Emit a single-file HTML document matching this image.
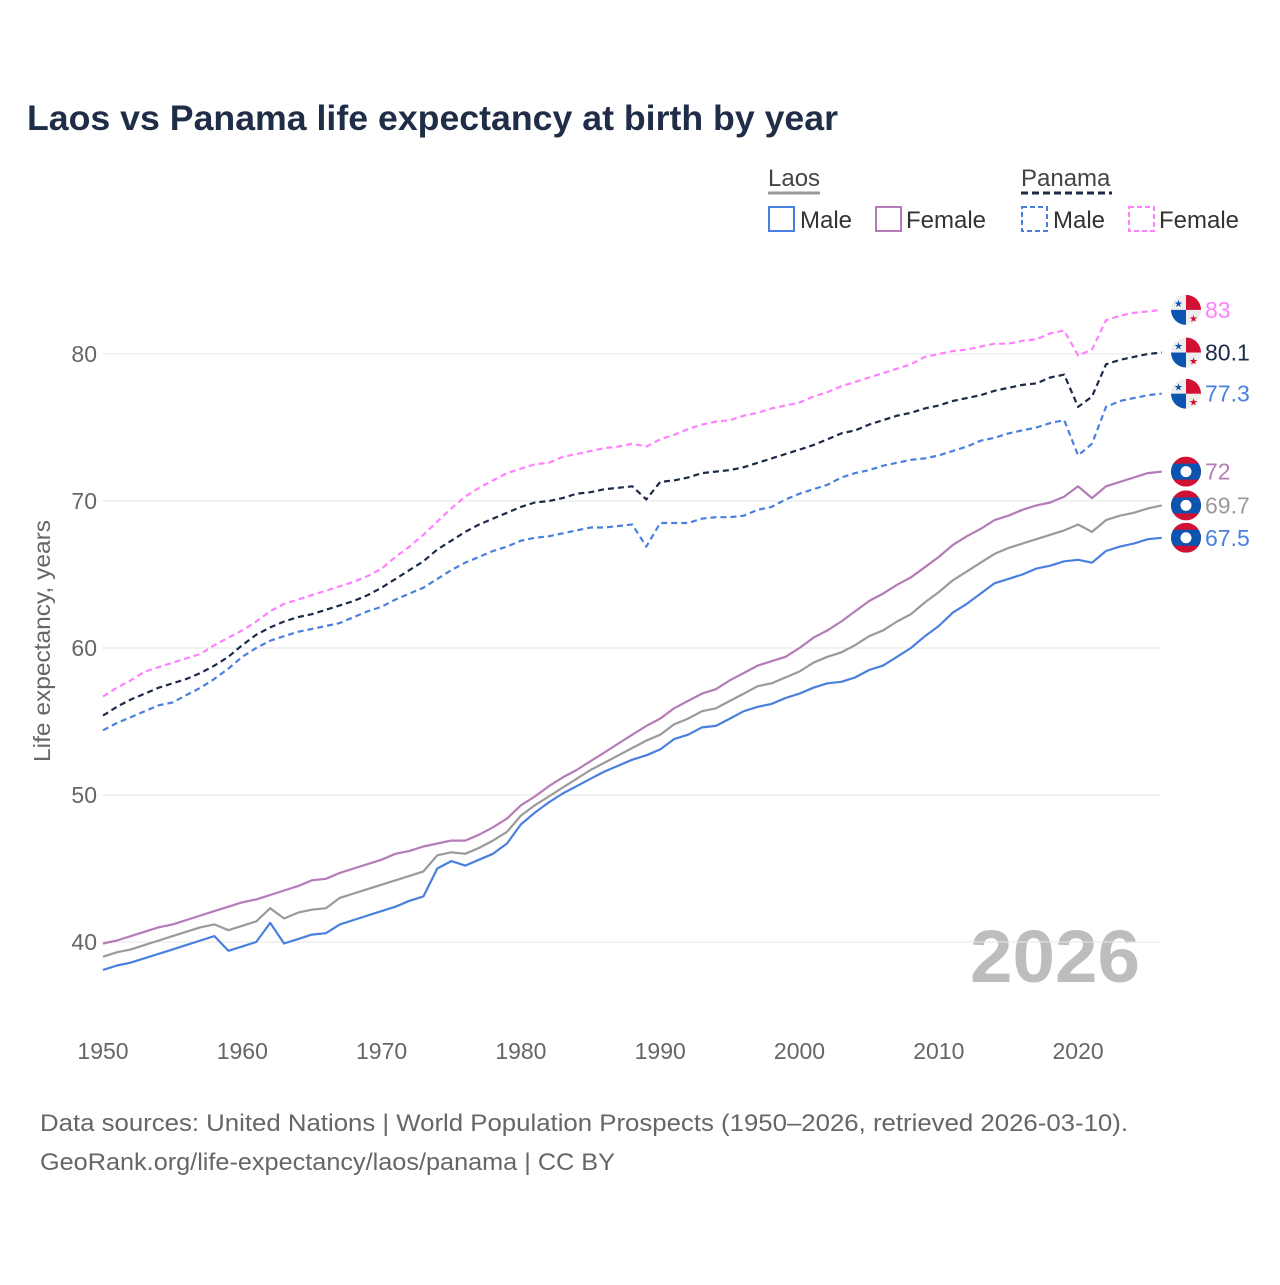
<!DOCTYPE html>
<html><head><meta charset="utf-8"><style>
html,body{margin:0;padding:0;background:#fff;}
body{width:1280px;height:1280px;overflow:hidden;font-family:"Liberation Sans",sans-serif;}
</style></head><body>
<svg id="chart" width="1280" height="1280" viewBox="0 0 1280 1280" xmlns="http://www.w3.org/2000/svg" font-family="Liberation Sans, sans-serif">
<text x="27" y="130" font-size="35" font-weight="bold" fill="#1f2d47" textLength="811" lengthAdjust="spacingAndGlyphs">Laos vs Panama life expectancy at birth by year</text>
<g font-size="24" fill="#333">
  <text x="768" y="186" fill="#444">Laos</text>
  <line x1="768" y1="193" x2="820" y2="193" stroke="#999" stroke-width="3"/>
  <text x="1021" y="186" fill="#444">Panama</text>
  <line x1="1021" y1="193" x2="1112" y2="193" stroke="#1b2a47" stroke-width="3" stroke-dasharray="7,4"/>
  <g><rect x="769" y="207" width="25" height="24" fill="none" stroke="#4a80dd" stroke-width="2"/><text x="800" y="228">Male</text></g>
  <g><rect x="876" y="207" width="25" height="24" fill="none" stroke="#b57bb8" stroke-width="2"/><text x="906" y="228">Female</text></g>
  <g><rect x="1022" y="207" width="25" height="24" fill="none" stroke="#4a80dd" stroke-width="2" stroke-dasharray="5,3"/><text x="1053" y="228">Male</text></g>
  <g><rect x="1129" y="207" width="25" height="24" fill="none" stroke="#ff80ff" stroke-width="2" stroke-dasharray="5,3"/><text x="1159" y="228">Female</text></g>
</g>
<text transform="translate(50,641) rotate(-90)" text-anchor="middle" font-size="23" fill="#666" textLength="242" lengthAdjust="spacingAndGlyphs">Life expectancy, years</text>
<text x="1140" y="982" text-anchor="end" font-size="74" font-weight="bold" fill="#bdbdbd" textLength="170" lengthAdjust="spacingAndGlyphs">2026</text>
<text x="40" y="1131" font-size="24" fill="#666" textLength="1088" lengthAdjust="spacingAndGlyphs">Data sources: United Nations | World Population Prospects (1950–2026, retrieved 2026-03-10).</text>
<text x="40" y="1170" font-size="24" fill="#666" textLength="575" lengthAdjust="spacingAndGlyphs">GeoRank.org/life-expectancy/laos/panama | CC BY</text>
<g id="grid"></g><g id="xticks"></g><g id="series"></g><g id="ends"></g>
</svg>
<script>
const yTicks=[40,50,60,70,80];
const xTicks=[1950,1960,1970,1980,1990,2000,2010,2020];
const startYear=1950;
const laosFemale=[39.9,40.1,40.4,40.7,41.0,41.2,41.5,41.8,42.1,42.4,42.7,42.9,43.2,43.5,43.8,44.2,44.3,44.7,45.0,45.3,45.6,46.0,46.2,46.5,46.7,46.9,46.9,47.3,47.8,48.4,49.3,49.9,50.6,51.2,51.7,52.3,52.9,53.5,54.1,54.7,55.2,55.9,56.4,56.9,57.2,57.8,58.3,58.8,59.1,59.4,60.0,60.7,61.2,61.8,62.5,63.2,63.7,64.3,64.8,65.5,66.2,67.0,67.6,68.1,68.7,69.0,69.4,69.7,69.9,70.3,71.0,70.2,71.0,71.3,71.6,71.9,72.0];
const laosTotal=[39.0,39.3,39.5,39.8,40.1,40.4,40.7,41.0,41.2,40.8,41.1,41.4,42.3,41.6,42.0,42.2,42.3,43.0,43.3,43.6,43.9,44.2,44.5,44.8,45.9,46.1,46.0,46.4,46.9,47.5,48.6,49.3,49.9,50.5,51.1,51.7,52.2,52.7,53.2,53.7,54.1,54.8,55.2,55.7,55.9,56.4,56.9,57.4,57.6,58.0,58.4,59.0,59.4,59.7,60.2,60.8,61.2,61.8,62.3,63.1,63.8,64.6,65.2,65.8,66.4,66.8,67.1,67.4,67.7,68.0,68.4,67.9,68.7,69.0,69.2,69.5,69.7];
const laosMale=[38.1,38.4,38.6,38.9,39.2,39.5,39.8,40.1,40.4,39.4,39.7,40.0,41.3,39.9,40.2,40.5,40.6,41.2,41.5,41.8,42.1,42.4,42.8,43.1,45.0,45.5,45.2,45.6,46.0,46.7,48.0,48.8,49.5,50.1,50.6,51.1,51.6,52.0,52.4,52.7,53.1,53.8,54.1,54.6,54.7,55.2,55.7,56.0,56.2,56.6,56.9,57.3,57.6,57.7,58.0,58.5,58.8,59.4,60.0,60.8,61.5,62.4,63.0,63.7,64.4,64.7,65.0,65.4,65.6,65.9,66.0,65.8,66.6,66.9,67.1,67.4,67.5];
const panamaFemale=[56.7,57.3,57.8,58.4,58.7,59.0,59.3,59.6,60.2,60.7,61.2,61.8,62.5,63.0,63.3,63.6,63.9,64.2,64.5,64.9,65.4,66.2,66.9,67.7,68.6,69.5,70.3,70.9,71.4,71.9,72.2,72.5,72.6,73.0,73.2,73.4,73.6,73.7,73.9,73.7,74.2,74.5,74.9,75.2,75.4,75.5,75.8,76.0,76.3,76.5,76.7,77.1,77.4,77.8,78.1,78.4,78.7,79.0,79.3,79.8,80.0,80.2,80.3,80.5,80.7,80.7,80.9,81.0,81.4,81.6,79.9,80.3,82.3,82.6,82.8,82.9,83.0];
const panamaTotal=[55.4,56.0,56.5,56.9,57.3,57.6,57.9,58.3,58.8,59.4,60.2,60.9,61.4,61.8,62.1,62.3,62.6,62.9,63.2,63.6,64.1,64.7,65.3,65.9,66.7,67.3,67.9,68.4,68.8,69.2,69.6,69.9,70.0,70.2,70.5,70.6,70.8,70.9,71.0,70.1,71.3,71.4,71.6,71.9,72.0,72.1,72.3,72.6,72.9,73.2,73.5,73.8,74.2,74.6,74.8,75.2,75.5,75.8,76.0,76.3,76.5,76.8,77.0,77.2,77.5,77.7,77.9,78.0,78.4,78.6,76.4,77.1,79.3,79.6,79.8,80.0,80.1];
const panamaMale=[54.4,54.9,55.3,55.7,56.1,56.3,56.8,57.3,57.9,58.6,59.4,60.0,60.5,60.8,61.1,61.3,61.5,61.7,62.1,62.5,62.8,63.3,63.7,64.1,64.7,65.3,65.8,66.2,66.6,66.9,67.3,67.5,67.6,67.8,68.0,68.2,68.2,68.3,68.4,66.9,68.5,68.5,68.5,68.8,68.9,68.9,69.0,69.4,69.6,70.1,70.5,70.8,71.1,71.6,71.9,72.1,72.4,72.6,72.8,72.9,73.1,73.4,73.7,74.1,74.3,74.6,74.8,75.0,75.3,75.5,73.1,73.9,76.4,76.8,77.0,77.2,77.3];
const endLabels=["83","80.1","77.3","72","69.7","67.5"];

const NS="http://www.w3.org/2000/svg";
const X=yr=>103+(yr-1950)*13.93;
const Y=v=>942-(v-40)*14.7;
function mk(tag,attrs,parent){const e=document.createElementNS(NS,tag);for(const k in attrs)e.setAttribute(k,attrs[k]);parent.appendChild(e);return e;}
const grid=document.getElementById('grid');
yTicks.forEach(t=>{
  const l=mk('line',{x1:103,x2:1161,y1:Y(t),y2:Y(t),stroke:'#e6e6e6','stroke-width':1},grid);
  
  
  const tx=mk('text',{x:97,y:Y(t)+8,'text-anchor':'end','font-size':23,fill:'#666'},grid);
  tx.textContent=t;
  
  
});
const xt=document.getElementById('xticks');
xTicks.forEach(t=>{
  const tx=mk('text',{x:X(t),y:1059,'text-anchor':'middle','font-size':23,fill:'#666'},xt);
  tx.textContent=t;
  
  
});
const series=[
 {d:panamaFemale,c:'#ff80ff',dash:'6,4',flag:'pa',name:'panama-female'},
 {d:panamaTotal,c:'#1b2a47',dash:'6,4',flag:'pa',name:'panama-total'},
 {d:panamaMale,c:'#4a80dd',dash:'6,4',flag:'pa',name:'panama-male'},
 {d:laosFemale,c:'#b57bb8',dash:null,flag:'la',name:'laos-female'},
 {d:laosTotal,c:'#9a9a9a',dash:null,flag:'la',name:'laos-total'},
 {d:laosMale,c:'#4a80dd',dash:null,flag:'la',name:'laos-male'}
];
const sg=document.getElementById('series'), eg=document.getElementById('ends');
series.forEach((s,i)=>{
  const pts=s.d.map((v,j)=>X(startYear+j).toFixed(1)+','+Y(v).toFixed(1)).join(' ');
  const a={points:pts,fill:'none',stroke:s.c,'stroke-width':2.2,'stroke-linejoin':'round'};
  if(s.dash)a['stroke-dasharray']=s.dash;
  const p=mk('polyline',a,sg);
  
  
  const last=s.d[s.d.length-1], yy=Y(last), cx=1186;
  const g=mk('g',{},eg);
  
  
  const cid='clip'+i;
  const cp=mk('clipPath',{id:cid},g); mk('circle',{cx:cx,cy:yy,r:15},cp);
  const fg=mk('g',{'clip-path':'url(#'+cid+')'},g);
  if(s.flag==='pa'){
    mk('rect',{x:cx-15,y:yy-15,width:30,height:30,fill:'#eee'},fg);
    mk('rect',{x:cx,y:yy-15,width:15,height:15,fill:'#d21034'},fg);
    mk('rect',{x:cx-15,y:yy,width:15,height:15,fill:'#0b55b0'},fg);
    const s1=mk('text',{x:cx-7.5,y:yy-3,'font-size':10,'text-anchor':'middle',fill:'#0b55b0'},fg);s1.textContent='★';
    const s2=mk('text',{x:cx+7.5,y:yy+12,'font-size':10,'text-anchor':'middle',fill:'#d21034'},fg);s2.textContent='★';
  } else {
    mk('rect',{x:cx-15,y:yy-15,width:30,height:30,fill:'#d21034'},fg);
    mk('rect',{x:cx-15,y:yy-8,width:30,height:16,fill:'#0b55b0'},fg);
    mk('circle',{cx:cx,cy:yy,r:5.5,fill:'#fff'},fg);
  }
  const t=mk('text',{x:1205,y:yy+8,'font-size':23,fill:s.c},g);
  t.textContent=endLabels[i];
});
</script>
</body></html>
